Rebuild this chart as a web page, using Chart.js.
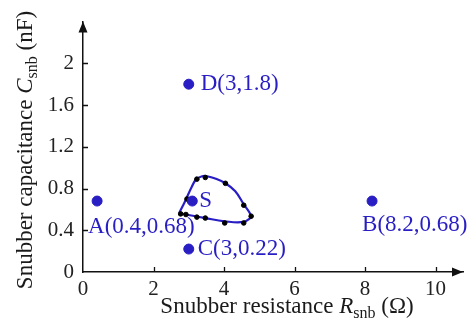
<!DOCTYPE html>
<html lang="en">
<head>
<meta charset="UTF-8">
<title>Snubber R-C design points</title>
<script src="https://cdn.jsdelivr.net/npm/chart.js"></script>
<style>
    html, body { margin: 0; padding: 0; background: #fff; }
    #wrap { width: 471px; height: 330px; }
</style>
</head>
<body>
<div id="wrap"><canvas id="snubberChart"></canvas></div>
<script>
// design points: resistance (ohm) and capacitance (nF)
const pointR = [0.4, 8.2, 3, 3];
const pointC = [0.68, 0.68, 0.22, 1.8];
const pointText = ['A(0.4,0.68)', 'B(8.2,0.68)', 'C(3,0.22)', 'D(3,1.8)'];

// chosen point S
const sR = [3.1];
const sC = [0.68];

// measured feasible points (black)
const feasR = [3.23, 3.47, 4.04, 2.95, 4.56, 4.77, 2.77, 2.92, 3.23, 3.47, 4.02, 4.56];
const feasC = [0.89, 0.906, 0.85, 0.70, 0.64, 0.535, 0.557, 0.551, 0.526, 0.517, 0.47, 0.47];

// boundary of the feasible region, upper and lower arcs
const upperR = [2.73, 2.90, 3.09, 3.21, 3.38, 3.52, 3.75, 4.04, 4.32, 4.56, 4.72, 4.79];
const upperC = [0.566, 0.681, 0.82, 0.888, 0.918, 0.918, 0.897, 0.851, 0.774, 0.649, 0.572, 0.526];
const lowerR = [4.79, 4.56, 4.02, 3.47, 2.92, 2.73];
const lowerC = [0.526, 0.48, 0.486, 0.517, 0.551, 0.566];

const xTicks = [0, 2, 4, 6, 8, 10];
const yTicks = [0, 0.4, 0.8, 1.2, 1.6, 2];

const blue = 'rgb(40, 30, 195)';
const ink = '#111';
const serif = '"Liberation Serif", "Times New Roman", serif';

const zip = (xs, ys) => xs.map((v, i) => ({ x: v, y: ys[i] }));

function drawParts(ctx, parts, x, y) {
    parts.forEach(([t, f, dy]) => {
        ctx.font = f;
        ctx.fillText(t, x, y + dy);
        x += ctx.measureText(t).width;
    });
}
function partsWidth(ctx, parts) {
    return parts.reduce((w, [t, f]) => { ctx.font = f; return w + ctx.measureText(t).width; }, 0);
}

const decor = {
    id: 'decor',
    afterDraw(chart) {
        const { ctx, chartArea: a, scales: { x, y } } = chart;
        ctx.save();

        // inward tick marks
        ctx.strokeStyle = ink;
        ctx.lineWidth = 1.3;
        ctx.beginPath();
        xTicks.slice(1).forEach(v => {
            const px = Math.round(x.getPixelForValue(v)) + 0.5;
            ctx.moveTo(px, a.bottom);
            ctx.lineTo(px, a.bottom - 5);
        });
        yTicks.slice(1).forEach(v => {
            const py = Math.round(y.getPixelForValue(v)) + 0.5;
            ctx.moveTo(a.left, py);
            ctx.lineTo(a.left + 5, py);
        });
        ctx.stroke();

        // arrow heads
        ctx.fillStyle = ink;
        ctx.beginPath();
        ctx.moveTo(a.left, a.top);
        ctx.lineTo(a.left - 4.5, a.top + 11);
        ctx.lineTo(a.left + 4.5, a.top + 11);
        ctx.closePath();
        ctx.moveTo(a.right, a.bottom);
        ctx.lineTo(a.right - 11, a.bottom - 4.5);
        ctx.lineTo(a.right - 11, a.bottom + 4.5);
        ctx.closePath();
        ctx.fill();

        // point labels
        ctx.fillStyle = blue;
        ctx.font = '23px ' + serif;
        ctx.textBaseline = 'middle';
        const offs = [[-9, 26], [-10, 24], [9, 0], [12, 0]];
        pointText.forEach((t, i) => {
            const px = x.getPixelForValue(pointR[i]);
            const py = y.getPixelForValue(pointC[i]);
            ctx.fillText(t, px + offs[i][0], py + offs[i][1]);
        });
        ctx.fillText('S', x.getPixelForValue(sR[0]) + 7, y.getPixelForValue(sC[0]));

        // axis titles
        ctx.fillStyle = '#1a1a1a';
        ctx.textBaseline = 'alphabetic';
        const big = '23px ' + serif, ital = 'italic 23px ' + serif, sub = '16px ' + serif;
        const xt = [['Snubber resistance ', big, 0], ['R', ital, 0], ['snb', sub, 5], [' (\u03A9)', big, 0]];
        drawParts(ctx, xt, 287 - partsWidth(ctx, xt) / 2, 313);

        const yt = [['Snubber capacitance ', big, 0], ['C', ital, 0], ['snb', sub, 5], [' (nF)', big, 0]];
        ctx.translate(32, 150);
        ctx.rotate(-Math.PI / 2);
        drawParts(ctx, yt, -partsWidth(ctx, yt) / 2, 0);

        ctx.restore();
    }
};

new Chart(document.getElementById('snubberChart'), {
    type: 'scatter',
    data: {
        datasets: [
            {
                data: zip(pointR, pointC).concat(zip(sR, sC)),
                backgroundColor: blue,
                borderColor: blue,
                pointRadius: 5,
                order: 0
            },
            {
                data: zip(feasR, feasC),
                backgroundColor: '#000',
                borderColor: '#000',
                pointRadius: 2.3,
                order: 1
            },
            {
                data: zip(upperR, upperC),
                showLine: true,
                tension: 0.4,
                borderColor: blue,
                borderWidth: 2.2,
                pointRadius: 0,
                order: 2
            },
            {
                data: zip(lowerR, lowerC),
                showLine: true,
                tension: 0.4,
                borderColor: blue,
                borderWidth: 2.2,
                pointRadius: 0,
                order: 2
            }
        ]
    },
    options: {
        responsive: true,
        maintainAspectRatio: false,
        animation: false,
        layout: { padding: { left: 0, top: 13, right: 8, bottom: 0 } },
        plugins: { legend: { display: false }, tooltip: { enabled: false } },
        scales: {
            x: {
                type: 'linear',
                min: 0,
                max: 10.78,
                grid: { display: false, drawTicks: false },
                border: { display: true, color: ink, width: 1.5 },
                ticks: {
                    color: '#222',
                    font: { family: serif, size: 21 },
                    padding: 5,
                    maxRotation: 0,
                    callback: v => String(v)
                },
                afterBuildTicks: s => { s.ticks = xTicks.map(v => ({ value: v })); },
                afterFit: s => { s.height = 58; }
            },
            y: {
                type: 'linear',
                min: 0,
                max: 2.4,
                grid: { display: false, drawTicks: false },
                border: { display: true, color: ink, width: 1.5 },
                ticks: {
                    color: '#222',
                    font: { family: serif, size: 21 },
                    padding: 9,
                    callback: v => String(v)
                },
                afterBuildTicks: s => { s.ticks = yTicks.map(v => ({ value: v })); },
                afterFit: s => { s.width = 83; }
            }
        }
    },
    plugins: [decor]
});
</script>
</body>
</html>
